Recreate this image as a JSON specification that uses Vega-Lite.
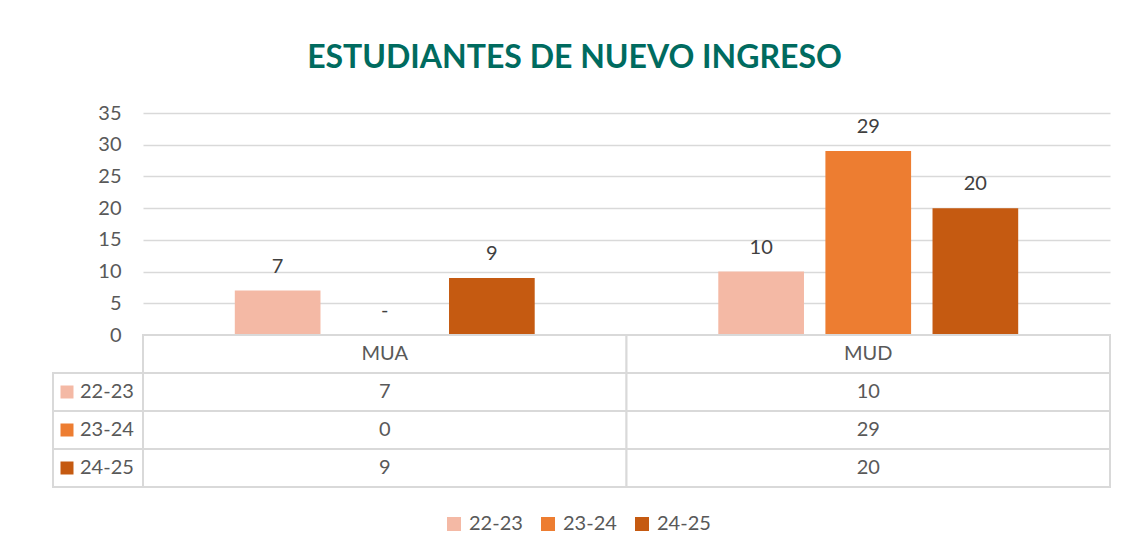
{
  "$schema": "https://vega.github.io/schema/vega-lite/v6.json",
  "background": "white",
  "padding": {"left": 52, "top": 42, "right": 5, "bottom": 5},
  "title": {"text": "ESTUDIANTES DE NUEVO INGRESO", "fontSize": 32, "font": "Lato", "fontWeight": "bold", "color": "#006B5F", "anchor": "middle", "offset": 28, "dx": -7},
  "datasets": {
    "ingresos": [
      {"programa": "MUA", "serie": "22-23", "valor": 7},
      {"programa": "MUA", "serie": "23-24", "valor": 0},
      {"programa": "MUA", "serie": "24-25", "valor": 9},
      {"programa": "MUD", "serie": "22-23", "valor": 10},
      {"programa": "MUD", "serie": "23-24", "valor": 29},
      {"programa": "MUD", "serie": "24-25", "valor": 20}
    ]
  },
  "config": {
    "view": {"stroke": null},
    "font": "Lato"
  },
  "columns": 2,
  "spacing": 0,
  "bounds": "flush",
  "concat": [
    {
      "width": 90,
      "height": 222,
      "data": {"values": [{}]},
      "mark": {"type": "text", "text": ""},
      "encoding": {}
    },
    {
      "width": 967,
      "height": 222,
      "data": {"name": "ingresos"},
      "encoding": {
        "x": {"field": "programa", "type": "nominal", "scale": {"paddingInner": 0, "paddingOuter": 0}, "axis": null},
        "xOffset": {"field": "serie", "type": "nominal", "scale": {"paddingInner": 0.2, "paddingOuter": 0.857}},
        "y": {"field": "valor", "type": "quantitative", "scale": {"domain": [0, 35], "nice": false},
          "axis": {"values": [0, 5, 10, 15, 20, 25, 30, 35], "title": null, "grid": true, "gridColor": "#d9d9d9", "gridWidth": 1.5, "domain": false, "ticks": false, "labelFontSize": 20, "labelColor": "#595959", "labelPadding": 22}}
      },
      "layer": [
        {
          "mark": {"type": "bar"},
          "encoding": {
            "color": {"field": "serie", "type": "nominal",
              "scale": {"domain": ["22-23", "23-24", "24-25"], "range": ["#F4B9A5", "#ED7D31", "#C55A11"]},
              "legend": {"orient": "none", "legendX": 391, "legendY": 401, "direction": "horizontal", "title": null, "symbolType": "square", "symbolSize": 196, "symbolStrokeWidth": 0, "labelFontSize": 20, "labelColor": "#595959", "columnPadding": 15, "labelOffset": 5}}
          }
        },
        {
          "transform": [{"calculate": "datum.valor === 0 ? '-' : format(datum.valor, 'd')", "as": "etiqueta"}],
          "mark": {"type": "text", "baseline": "bottom", "dy": -14, "fontSize": 20, "color": "#404040"},
          "encoding": {"text": {"field": "etiqueta", "type": "nominal"}}
        }
      ]
    },
    {
      "width": 90,
      "height": 152,
      "data": {"name": "ingresos"},
      "transform": [{"filter": "datum.programa === 'MUA'"}],
      "encoding": {
        "y": {"field": "serie", "type": "nominal", "scale": {"domain": ["hdr", "22-23", "23-24", "24-25"], "paddingInner": 0, "paddingOuter": 0}, "axis": null}
      },
      "layer": [
        {"mark": {"type": "rect", "fill": "white", "stroke": "#d9d9d9", "strokeWidth": 2}},
        {
          "mark": {"type": "point", "shape": "square", "filled": true, "size": 169, "opacity": 1},
          "encoding": {
            "color": {"field": "serie", "type": "nominal",
              "scale": {"domain": ["22-23", "23-24", "24-25"], "range": ["#F4B9A5", "#ED7D31", "#C55A11"]},
              "legend": {"orient": "none", "legendX": 391, "legendY": 401, "direction": "horizontal", "title": null, "symbolType": "square", "symbolSize": 196, "symbolStrokeWidth": 0, "labelFontSize": 20, "labelColor": "#595959", "columnPadding": 15, "labelOffset": 5}},
            "xOffset": {"value": -31}
          }
        },
        {
          "mark": {"type": "text", "align": "left", "dx": -18, "fontSize": 20, "color": "#595959"},
          "encoding": {"text": {"field": "serie", "type": "nominal"}}
        }
      ]
    },
    {
      "width": 967,
      "height": 152,
      "data": {"name": "ingresos"},
      "encoding": {
        "x": {"field": "programa", "type": "nominal", "scale": {"paddingInner": 0, "paddingOuter": 0}, "axis": null},
        "y": {"field": "serie", "type": "nominal", "scale": {"domain": ["hdr", "22-23", "23-24", "24-25"], "paddingInner": 0, "paddingOuter": 0}, "axis": null}
      },
      "layer": [
        {"mark": {"type": "rect", "fill": "white", "stroke": "#d9d9d9", "strokeWidth": 2}},
        {"mark": {"type": "text", "fontSize": 20, "color": "#595959"}, "encoding": {"text": {"field": "valor", "type": "quantitative"}}},
        {
          "data": {"values": [{"programa": "MUA"}, {"programa": "MUD"}]},
          "encoding": {"y": {"datum": "hdr"}},
          "layer": [
            {"mark": {"type": "rect", "fill": "white", "stroke": "#d9d9d9", "strokeWidth": 2}},
            {"mark": {"type": "text", "fontSize": 20, "color": "#595959"}, "encoding": {"text": {"field": "programa", "type": "nominal"}}}
          ]
        }
      ]
    }
  ]
}
